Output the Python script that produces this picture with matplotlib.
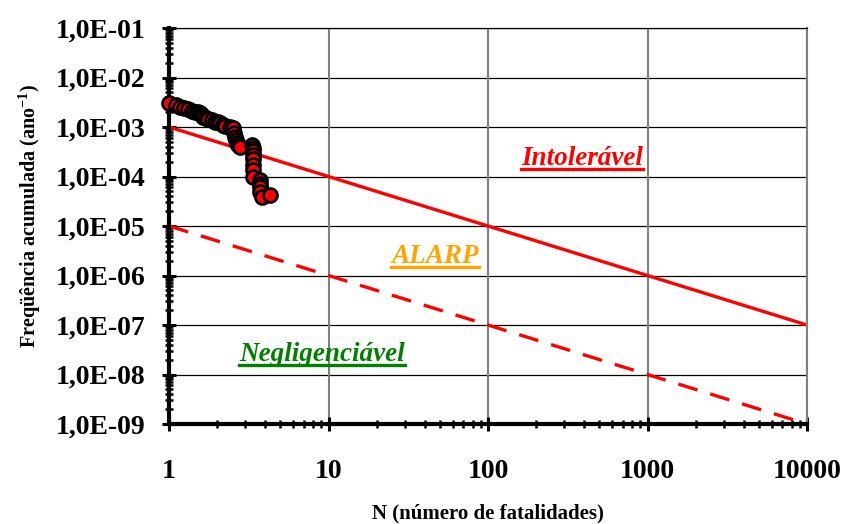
import matplotlib
matplotlib.use("Agg")
import matplotlib.pyplot as plt
import numpy as np
from matplotlib.ticker import LogLocator, NullFormatter

# Data
N_obs = [1.0, 1.10, 1.17, 1.25, 1.32, 1.40, 1.46, 1.52, 1.56, 1.60, 1.64, 1.70, 1.76,
         1.85, 1.94, 2.02, 2.09, 2.17, 2.24, 2.40, 2.53, 2.56, 2.59, 2.62, 2.66,
         2.72, 2.79, 3.30, 3.38, 3.38, 3.38, 3.38, 3.38, 3.38, 3.38, 3.72, 3.72,
         3.72, 3.72, 3.81, 4.30]
F_obs = [3.05e-3, 2.80e-3, 2.57e-3, 2.42e-3, 2.28e-3, 2.15e-3, 2.04e-3, 1.97e-3, 1.90e-3,
         1.72e-3, 1.58e-3, 1.52e-3, 1.45e-3, 1.36e-3, 1.29e-3, 1.24e-3, 1.19e-3, 1.12e-3,
         1.06e-3, 1.00e-3, 9.4e-4, 7.5e-4, 6.3e-4, 5.4e-4, 4.7e-4, 4.3e-4, 4.0e-4,
         4.3e-4, 3.7e-4, 3.2e-4, 2.7e-4, 2.3e-4, 1.7e-4, 1.35e-4, 1.0e-4, 8.5e-5,
         7.2e-5, 6.2e-5, 4.9e-5, 3.9e-5, 4.3e-5]

N_crit = [1, 10000]
F_intol = [1e-3, 1e-7]
F_neg = [1e-5, 1e-9]

yticks = [1e-1, 1e-2, 1e-3, 1e-4, 1e-5, 1e-6, 1e-7, 1e-8, 1e-9]
ytick_labels = ["1,0E-01", "1,0E-02", "1,0E-03", "1,0E-04", "1,0E-05",
                "1,0E-06", "1,0E-07", "1,0E-08", "1,0E-09"]
xticks = [1, 10, 100, 1000, 10000]
xtick_labels = ["1", "10", "100", "1000", "10000"]

plt.rcParams['font.family'] = ['Liberation Serif', 'DejaVu Serif']
plt.rcParams['mathtext.fontset'] = 'custom'
plt.rcParams['mathtext.rm'] = 'Liberation Serif:bold'
plt.rcParams['mathtext.bf'] = 'Liberation Serif:bold'
plt.rcParams['mathtext.it'] = 'Liberation Serif:bold:italic'

fig = plt.figure(figsize=(8.43, 5.24), dpi=100)
ax = fig.add_axes([169/843, 1-424/524, (807-169)/843, (424-28)/524])
ax.set_xscale('log')
ax.set_yscale('log')
ax.set_xlim(1, 10000)
ax.set_ylim(1e-9, 1e-1)

# grid
for yv in yticks:
    ax.axhline(yv, color='black', lw=0.9, zorder=1)
for xv in xticks[1:]:
    ax.axvline(xv, color='#808080', lw=1.5, zorder=1)

ax.plot(N_crit, F_intol, color='#ff0000', lw=2.4, zorder=2)
ax.plot(N_crit, F_neg, color='#ff0000', lw=2.4, ls=(0, (6, 4)), zorder=2)
ax.plot(N_obs, F_obs, 'o', ms=10, mfc='#ff0000', mec='black', mew=2.0, zorder=3,
        clip_on=False)

ax.set_yticks(yticks)
ax.set_yticklabels(ytick_labels, fontsize=20, fontweight='bold')
ax.set_xticks(xticks)
ax.set_xticklabels(xtick_labels, fontsize=20, fontweight='bold')
ax.xaxis.set_minor_locator(LogLocator(base=10, subs=np.arange(2, 10)))
ax.yaxis.set_minor_locator(LogLocator(base=10, subs=np.arange(2, 10), numticks=20))
ax.xaxis.set_minor_formatter(NullFormatter())
ax.yaxis.set_minor_formatter(NullFormatter())
ax.tick_params(axis='both', which='major', direction='inout', length=10, width=2.2,
               color='black')
ax.tick_params(axis='both', which='minor', direction='inout', length=6, width=1.8,
               color='black')
ax.tick_params(axis='x', which='major', pad=20)
ax.tick_params(axis='y', which='major', pad=12)

for s in ['left', 'bottom']:
    ax.spines[s].set_linewidth(3)
    ax.spines[s].set_color('black')
ax.spines['right'].set_color('#808080')
ax.spines['right'].set_linewidth(1.5)
ax.spines['top'].set_color('black')
ax.spines['top'].set_linewidth(0.9)

ax.set_xlabel("N (número de fatalidades)", fontsize=15, fontweight='bold', labelpad=14)
ax.set_ylabel("Freqüência acumulada (ano$^{-1}$)", fontsize=14.5,
              fontweight='bold', labelpad=8)
ax.yaxis.set_label_coords(-0.198, 1 - (216 - 28) / (424 - 28))

labels = [
    ("Intolerável", 582, 165, '#ff0000'),
    ("ALARP", 435, 263, '#ffa500'),
    ("Negligenciável", 322, 361, '#008000'),
]
fig.canvas.draw()
renderer = fig.canvas.get_renderer()
for s, px, py, col in labels:
    t = fig.text(px/843, 1-py/524, s, color=col, fontsize=19.5, fontweight='bold',
                 fontstyle='italic', ha='center', va='baseline')
    bb = t.get_window_extent(renderer=renderer)
    uy = 1 - (py + 4)/524
    fig.add_artist(plt.Line2D([bb.x0/843, bb.x1/843], [uy, uy], color=col, lw=2.4))

fig.savefig("out.png", dpi=100)
